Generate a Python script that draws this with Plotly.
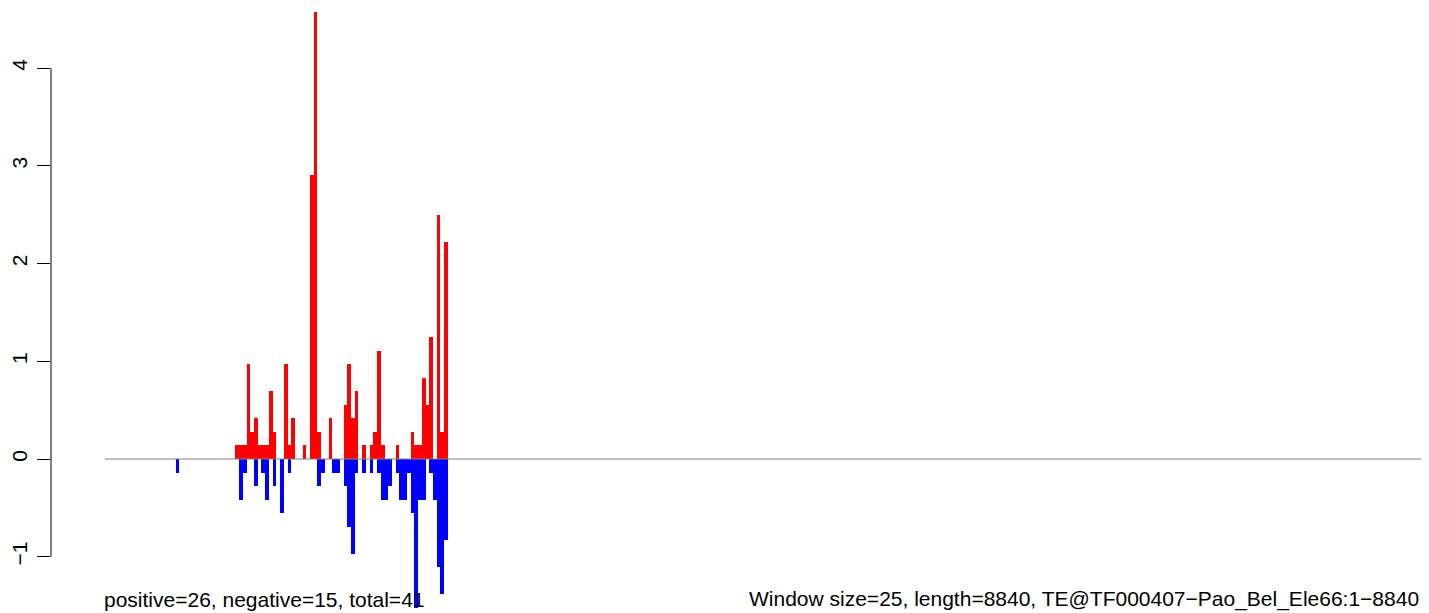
import plotly.graph_objects as go

# window indices (window size 25) and normalised values
pos_bins = [35, 36, 37, 38, 39, 40, 41, 42, 43, 44, 45, 48, 49, 50, 53, 55, 56, 57, 60,
            64, 65, 66, 67, 69, 71, 72, 73, 74, 78, 82, 83, 84, 85, 86, 87, 89, 90, 91]
pos_vals = [0.139, 0.139, 0.139, 0.970, 0.277, 0.416, 0.139, 0.139, 0.139, 0.693, 0.277,
            0.970, 0.139, 0.416, 0.139, 2.909, 4.571, 0.277, 0.416, 0.554, 0.970, 0.416,
            0.693, 0.139, 0.139, 0.277, 1.108, 0.139, 0.139, 0.277, 0.139, 0.139, 0.831,
            0.554, 1.247, 2.493, 0.277, 2.216]

neg_bins = [19, 36, 37, 40, 42, 43, 45, 47, 49, 57, 58, 61, 62, 64, 65, 66, 67, 69, 71,
            73, 74, 75, 76, 78, 79, 80, 81, 82, 83, 84, 85, 87, 88, 89, 90, 91]
neg_vals = [-0.139, -0.416, -0.139, -0.277, -0.139, -0.416, -0.277, -0.554, -0.139,
            -0.277, -0.139, -0.139, -0.139, -0.277, -0.693, -0.970, -0.139, -0.139,
            -0.139, -0.139, -0.416, -0.416, -0.277, -0.139, -0.416, -0.416, -0.139,
            -0.554, -1.524, -0.416, -0.416, -0.139, -0.416, -1.108, -1.385, -0.831]

n_windows = 354
y_ticks = [-1, 0, 1, 2, 3, 4]
left_label = "positive=26, negative=15, total=41"
right_label = "Window size=25, length=8840, TE@TF000407\u2212Pao_Bel_Ele66:1\u22128840"

FONT = "Liberation Sans, Arial, Helvetica, sans-serif"

fig = go.Figure()
fig.add_trace(go.Bar(x=pos_bins, y=pos_vals, width=1, marker=dict(color="#FF0000", line=dict(width=0)),
                     showlegend=False, hoverinfo="skip"))
fig.add_trace(go.Bar(x=neg_bins, y=neg_vals, width=1, marker=dict(color="#0000FF", line=dict(width=0)),
                     showlegend=False, hoverinfo="skip"))
fig.add_trace(go.Scatter(x=[-0.5, n_windows + 6], y=[0, 0], mode="lines",
                         line=dict(color="#7f7f7f", width=1), showlegend=False, hoverinfo="skip",
                         cliponaxis=False))

fig.update_layout(
    width=1429, height=613,
    margin=dict(l=39, r=0, t=0, b=0),
    paper_bgcolor="white", plot_bgcolor="white",
    barmode="overlay", bargap=0,
    font=dict(family=FONT, size=21, color="black"),
    xaxis=dict(range=[-14.94, 356.72], visible=False, fixedrange=True),
    yaxis=dict(range=[-1.657, 4.614], tickvals=y_ticks, ticktext=[str(v).replace("-", "\u2212") for v in y_ticks],
               ticks="outside", ticklen=13, tickwidth=1, tickcolor="black",
               showgrid=False, zeroline=False, showline=False, tickangle=-90,
               ticklabelstandoff=2, tickfont=dict(family=FONT, size=21, color="black")),
    shapes=[dict(type="line", xref="paper", yref="y", x0=0, x1=0, y0=-1, y1=4,
                 line=dict(color="black", width=1), layer="above")],
    annotations=[
        dict(x=-1.3, y=-1.432, xref="x", yref="y", text=left_label, showarrow=False,
             xanchor="left", yanchor="middle", font=dict(family=FONT, size=21, color="black")),
        dict(x=171.7, y=-1.432, xref="x", yref="y", text=right_label, showarrow=False,
             xanchor="left", yanchor="middle", font=dict(family=FONT, size=21, color="black")),
    ],
)

fig.write_html("out.html")
